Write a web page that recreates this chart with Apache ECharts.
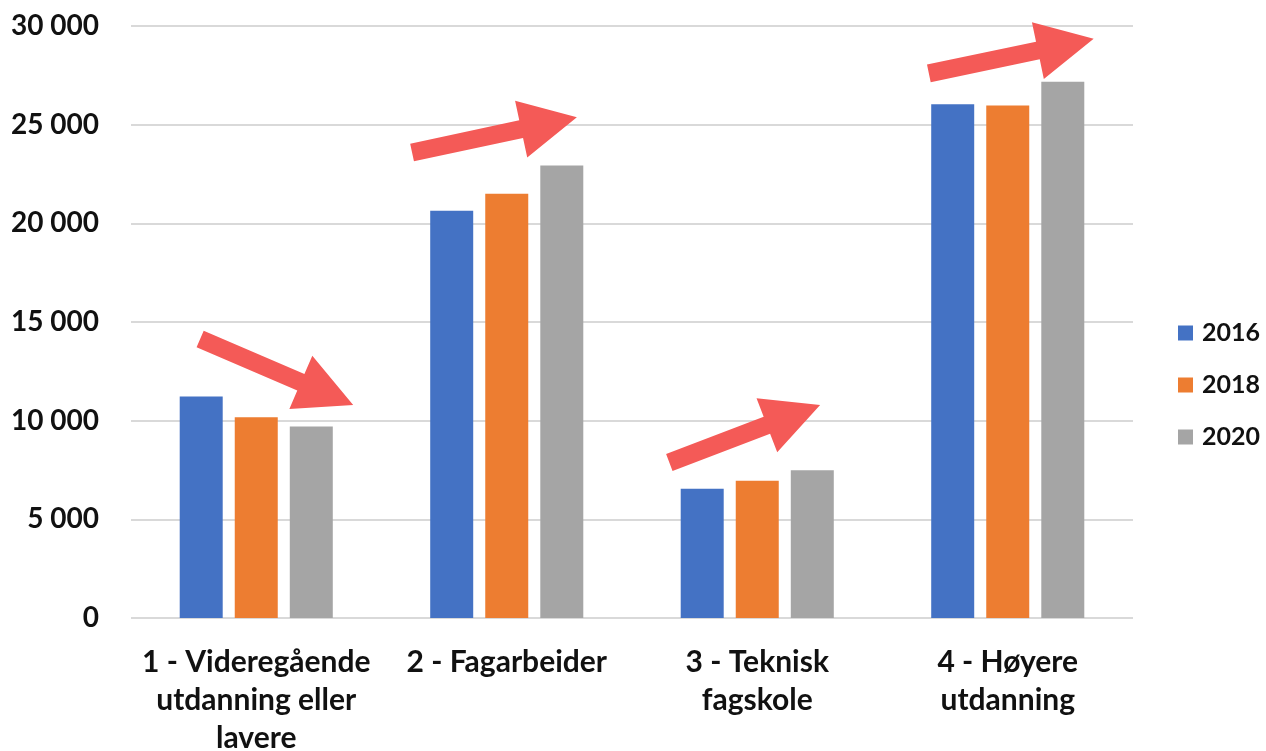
<!DOCTYPE html>
<html>
<head>
<meta charset="utf-8">
<title>Utdanning 2016–2020</title>
<script src="https://cdn.jsdelivr.net/npm/echarts@6/dist/echarts.min.js"></script>
<style>
  html, body { margin: 0; padding: 0; background: #ffffff; }
  #chart { width: 1266px; height: 751px; }
</style>
</head>
<body>
<div id="chart"></div>
<script>
// Education levels on the category axis
var categories = [
  '1 - Videregående\nutdanning eller\nlavere',
  '2 - Fagarbeider',
  '3 - Teknisk\nfagskole',
  '4 - Høyere\nutdanning'
];

// Values per year
var years = ['2016', '2018', '2020'];
var values2016 = [11220, 20640, 6550, 26040];
var values2018 = [10170, 21500, 6960, 25970];
var values2020 = [9700, 22930, 7490, 27170];

// Y axis ticks
var yTicks = [0, 5000, 10000, 15000, 20000, 25000, 30000];

// Trend arrows: [category position, value] for tail and tip
var trendArrows = [
  { from: [-0.224, 14140], to: [0.387, 10800] },
  { from: [0.622, 23590], to: [1.280, 25380] },
  { from: [1.649, 7880], to: [2.251, 10800] },
  { from: [2.685, 27600], to: [3.343, 29350] }
];

var colors = ['#4472C4', '#ED7D31', '#A5A5A5'];
var fontFamily = 'Lato, "Open Sans", sans-serif';

function formatThousands(v) {
  return String(v).replace(/\B(?=(\d{3})+(?!\d))/g, ' ');
}

var chart = echarts.init(document.getElementById('chart'), null, { renderer: 'canvas' });

var seriesValues = [values2016, values2018, values2020];

chart.setOption({
  animation: false,
  color: colors,
  textStyle: { fontFamily: fontFamily },
  grid: {
    left: 131, right: 133, top: 26, bottom: 133,
    containLabel: false,
    outerBoundsMode: 'none'
  },
  legend: {
    orient: 'vertical',
    left: 1178,
    top: 320,
    padding: 0,
    itemWidth: 15,
    itemHeight: 15,
    itemGap: 26,
    icon: 'rect',
    data: years,
    textStyle: {
      fontFamily: fontFamily,
      fontSize: 25,
      fontWeight: 'bold',
      color: '#111111',
      lineHeight: 26,
      padding: [0, 0, 0, 4]
    }
  },
  xAxis: {
    type: 'category',
    data: categories,
    axisLine: { show: false },
    axisTick: { show: false },
    axisLabel: {
      margin: 25,
      fontFamily: fontFamily,
      fontSize: 30,
      fontWeight: 'bold',
      color: '#111111',
      lineHeight: 38,
      interval: 0
    }
  },
  yAxis: {
    type: 'value',
    min: yTicks[0],
    max: yTicks[yTicks.length - 1],
    interval: yTicks[1] - yTicks[0],
    axisLine: { show: false },
    axisTick: { show: false },
    splitLine: { lineStyle: { color: '#d9d9d9', width: 2 } },
    axisLabel: {
      margin: 32,
      fontFamily: fontFamily,
      fontSize: 28,
      fontWeight: 'bold',
      color: '#111111',
      formatter: function (v) { return formatThousands(v); }
    }
  },
  series: years.map(function (y, i) {
    return {
      name: y,
      type: 'bar',
      data: seriesValues[i],
      barWidth: 43,
      barGap: '28%',
      itemStyle: { color: colors[i] }
    };
  })
});

// Convert [category position, value] into pixels
function toPixel(pt) {
  var c0 = chart.convertToPixel({ xAxisIndex: 0 }, 0);
  var c1 = chart.convertToPixel({ xAxisIndex: 0 }, 1);
  var x = c0 + pt[0] * (c1 - c0);
  var y = chart.convertToPixel({ yAxisIndex: 0 }, pt[1]);
  return [x, y];
}

function arrowPolygon(a) {
  var shaft = 18, headW = 58, headL = 57;
  var t = toPixel(a.from), p = toPixel(a.to);
  var dx = p[0] - t[0], dy = p[1] - t[1];
  var len = Math.sqrt(dx * dx + dy * dy);
  var ux = dx / len, uy = dy / len;
  var nx = -uy, ny = ux;
  var bx = p[0] - ux * headL, by = p[1] - uy * headL;
  return [
    [t[0] + nx * shaft / 2, t[1] + ny * shaft / 2],
    [bx + nx * shaft / 2, by + ny * shaft / 2],
    [bx + nx * headW / 2, by + ny * headW / 2],
    [p[0], p[1]],
    [bx - nx * headW / 2, by - ny * headW / 2],
    [bx - nx * shaft / 2, by - ny * shaft / 2],
    [t[0] - nx * shaft / 2, t[1] - ny * shaft / 2]
  ];
}

chart.setOption({
  graphic: trendArrows.map(function (a) {
    return {
      type: 'polygon',
      z: 100,
      shape: { points: arrowPolygon(a) },
      style: { fill: '#F45A57' }
    };
  })
});
</script>
</body>
</html>
